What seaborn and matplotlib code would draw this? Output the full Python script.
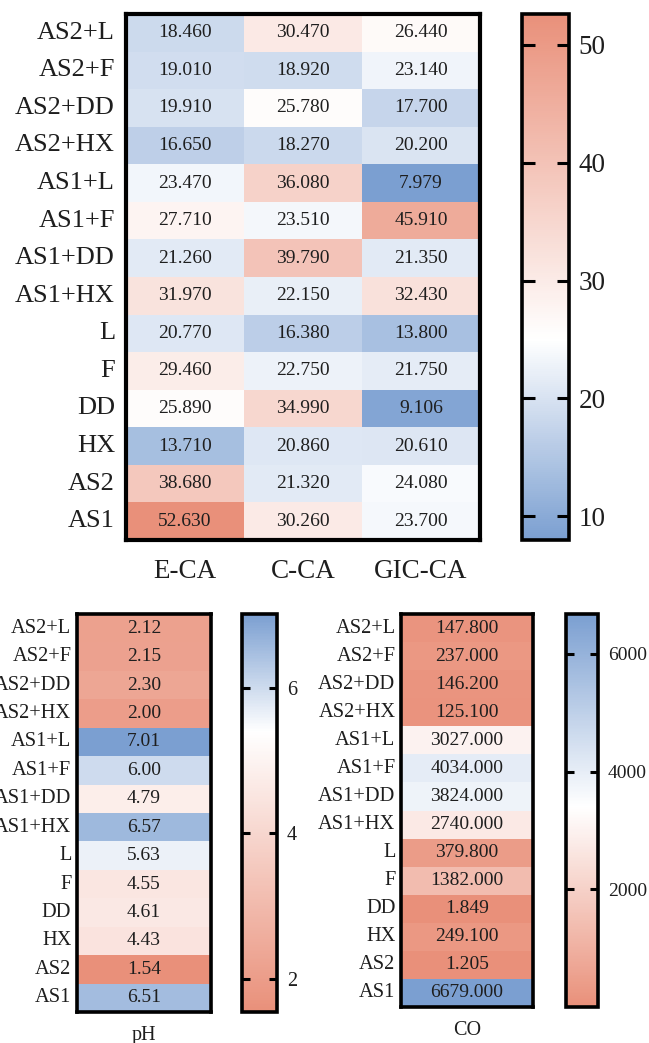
import numpy as np
import pandas as pd
import matplotlib
matplotlib.use("Agg")
import matplotlib.pyplot as plt
from matplotlib.colors import LinearSegmentedColormap
import seaborn as sns

# Treatments, listed top to bottom
treatments = ["AS2+L", "AS2+F", "AS2+DD", "AS2+HX", "AS1+L", "AS1+F", "AS1+DD",
              "AS1+HX", "L", "F", "DD", "HX", "AS2", "AS1"]

# Enzyme activity columns
enzymes = ["E-CA", "C-CA", "GIC-CA"]
e_ca = [18.460, 19.010, 19.910, 16.650, 23.470, 27.710, 21.260,
        31.970, 20.770, 29.460, 25.890, 13.710, 38.680, 52.630]
c_ca = [30.470, 18.920, 25.780, 18.270, 36.080, 23.510, 39.790,
        22.150, 16.380, 22.750, 34.990, 20.860, 21.320, 30.260]
gic_ca = [26.440, 23.140, 17.700, 20.200, 7.979, 45.910, 21.350,
          32.430, 13.800, 21.750, 9.106, 20.610, 24.080, 23.700]

ph = [2.12, 2.15, 2.30, 2.00, 7.01, 6.00, 4.79, 6.57, 5.63, 4.55, 4.61, 4.43, 1.54, 6.51]
co = [147.800, 237.000, 146.200, 125.100, 3027.000, 4034.000, 3824.000,
      2740.000, 379.800, 1382.000, 1.849, 249.100, 1.205, 6679.000]

top_ticks = [10, 20, 30, 40, 50]
ph_ticks = [2, 4, 6]
co_ticks = [2000, 4000, 6000]

SALMON = "#E9907A"
BLUE = "#7B9FD1"
INK = "#1e1e1e"
FONT = "Liberation Serif"

plt.rcParams["font.family"] = [FONT, "DejaVu Serif"]


def diverging(lo_color, hi_color, vmin, vmax, white_at):
    pos = (white_at - vmin) / (vmax - vmin)
    return LinearSegmentedColormap.from_list(
        "div", [(0.0, lo_color), (pos, "#FFFFFF"), (1.0, hi_color)])


def frame(ax, lw=2.6):
    for s in ax.spines.values():
        s.set_visible(True)
        s.set_linewidth(lw)
        s.set_color("black")


def style_cbar(ax, cax, ticks, fs, tick_len):
    cbar = ax.collections[0].colorbar
    cbar.set_ticks(ticks)
    cbar.outline.set_linewidth(2.6)
    cbar.outline.set_edgecolor("black")
    cax.yaxis.set_ticks_position("both")
    cax.tick_params(axis="y", direction="in", length=tick_len, width=2.2,
                    labelleft=False, labelright=True, labelsize=fs,
                    labelcolor=INK, pad=7)


fig = plt.figure(figsize=(6.49, 10.43), dpi=100)

# ---- Top panel: enzyme activities ----
df_top = pd.DataFrame({"E-CA": e_ca, "C-CA": c_ca, "GIC-CA": gic_ca}, index=treatments)[enzymes]
vmin, vmax = df_top.values.min(), df_top.values.max()
cmap_top = diverging(BLUE, SALMON, vmin, vmax, 25.0)

ax1 = fig.add_axes([0.1941, 0.4823, 0.5455, 0.5043])
cax1 = fig.add_axes([0.8043, 0.4823, 0.0724, 0.5043])
sns.heatmap(df_top, ax=ax1, cbar_ax=cax1, cmap=cmap_top, vmin=vmin, vmax=vmax,
            annot=True, fmt=".3f", annot_kws={"fontsize": 14, "color": INK, "family": FONT})
frame(ax1, 3.0)
ax1.tick_params(axis="both", length=0, labelsize=19, labelcolor=INK)
ax1.tick_params(axis="y", pad=8)
ax1.tick_params(axis="x", labelsize=19.5, pad=14)
ax1.set_yticklabels(treatments, rotation=0)
ax1.set_xticklabels(enzymes, rotation=0)
ax1.set_xlabel("")
ax1.set_ylabel("")
style_cbar(ax1, cax1, top_ticks, 19.5, 9)

# ---- Bottom left: pH ----
df_ph = pd.DataFrame({"pH": ph}, index=treatments)
pmin, pmax = min(ph), max(ph)
cmap_ph = diverging(SALMON, BLUE, pmin, pmax, 5.4)

ax2 = fig.add_axes([0.1186, 0.0297, 0.2065, 0.3816])
cax2 = fig.add_axes([0.3729, 0.0297, 0.054, 0.3816])
sns.heatmap(df_ph, ax=ax2, cbar_ax=cax2, cmap=cmap_ph, vmin=pmin, vmax=pmax,
            annot=True, fmt=".2f", annot_kws={"fontsize": 14, "color": INK, "family": FONT})
frame(ax2)
ax2.tick_params(axis="both", length=0, labelsize=14.7, labelcolor=INK)
ax2.tick_params(axis="y", pad=4)
ax2.tick_params(axis="x", labelsize=14.5, pad=10)
ax2.set_yticklabels(treatments, rotation=0)
ax2.set_xticklabels(["pH"], rotation=0)
style_cbar(ax2, cax2, ph_ticks, 14.5, 6)

# ---- Bottom right: CO ----
df_co = pd.DataFrame({"CO": co}, index=treatments)
cmin, cmax = min(co), max(co)
cmap_co = diverging(SALMON, BLUE, cmin, cmax, 3400.0)

ax3 = fig.add_axes([0.6179, 0.0345, 0.2034, 0.3768])
cax3 = fig.add_axes([0.8721, 0.0345, 0.0493, 0.3768])
sns.heatmap(df_co, ax=ax3, cbar_ax=cax3, cmap=cmap_co, vmin=cmin, vmax=cmax,
            annot=True, fmt=".3f", annot_kws={"fontsize": 14, "color": INK, "family": FONT})
frame(ax3)
ax3.tick_params(axis="both", length=0, labelsize=14.7, labelcolor=INK)
ax3.tick_params(axis="y", pad=4)
ax3.tick_params(axis="x", labelsize=14.5, pad=10)
ax3.set_yticklabels(treatments, rotation=0)
ax3.set_xticklabels(["CO"], rotation=0)
style_cbar(ax3, cax3, co_ticks, 14, 6)

fig.savefig("out.png", dpi=100, facecolor="white")
